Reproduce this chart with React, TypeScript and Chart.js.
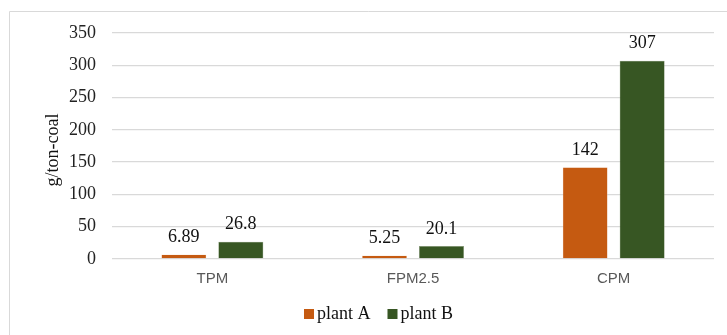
import React, { useEffect, useRef } from "react";
import { Chart, registerables } from "chart.js";

Chart.register(...registerables);

const categories = ["TPM", "FPM2.5", "CPM"];
const plantA = [6.89, 5.25, 142];
const plantB = [26.8, 20.1, 307];
const seriesLabels = ["plant A", "plant B"];
const seriesColors = ["#C55A11", "#375623"];
const yMin = 0;
const yMax = 350;
const yStep = 50;
const yTitle = "g/ton-coal";

const SERIF = "'Liberation Serif', 'Times New Roman', serif";

const framePlugin = {
  id: "frame",
  beforeDraw(chart: any) {
    const ctx = chart.ctx;
    ctx.save();
    ctx.strokeStyle = "#d9d9d9";
    ctx.lineWidth = 1;
    ctx.beginPath();
    ctx.moveTo(9.5, chart.height);
    ctx.lineTo(9.5, 11.5);
    ctx.lineTo(chart.width, 11.5);
    ctx.stroke();
    ctx.restore();
  },
};

const barLabelPlugin = {
  id: "barLabels",
  afterDatasetsDraw(chart: any) {
    const ctx = chart.ctx;
    ctx.save();
    ctx.font = `18px ${SERIF}`;
    ctx.fillStyle = "#111";
    ctx.textAlign = "center";
    ctx.textBaseline = "alphabetic";
    chart.data.datasets.forEach((ds: any, i: number) => {
      const meta = chart.getDatasetMeta(i);
      meta.data.forEach((bar: any, j: number) => {
        ctx.fillText(String(ds.data[j]), bar.x, bar.y - 12.5);
      });
    });
    ctx.restore();
  },
};

const yTitlePlugin = {
  id: "yTitleCustom",
  afterDraw(chart: any) {
    const ctx = chart.ctx;
    ctx.save();
    ctx.translate(53, 150);
    ctx.rotate(-Math.PI / 2);
    ctx.font = `18px ${SERIF}`;
    ctx.fillStyle = "#111";
    ctx.textAlign = "center";
    ctx.textBaseline = "middle";
    ctx.fillText(yTitle, 0, 0);
    ctx.restore();
  },
};

const legendPlugin = {
  id: "customLegend",
  afterDraw(chart: any) {
    const ctx = chart.ctx;
    ctx.save();
    ctx.font = `18px ${SERIF}`;
    const box = 10;
    const gapBoxText = 3;
    const gapItems = 17;
    const items = chart.data.datasets.map((ds: any) => ({
      text: ds.label,
      color: ds.backgroundColor,
      w: ctx.measureText(ds.label).width,
    }));
    const total =
      items.reduce((s: number, it: any) => s + box + gapBoxText + it.w, 0) +
      gapItems * (items.length - 1);
    let x = 378.5 - total / 2;
    const baseline = 319;
    items.forEach((it: any) => {
      ctx.fillStyle = it.color;
      ctx.fillRect(x, baseline - box, box, box);
      x += box + gapBoxText;
      ctx.fillStyle = "#111";
      ctx.textAlign = "left";
      ctx.textBaseline = "alphabetic";
      ctx.fillText(it.text, x, baseline);
      x += it.w + gapItems;
    });
    ctx.restore();
  },
};

export default function App() {
  const ref = useRef<HTMLCanvasElement | null>(null);

  useEffect(() => {
    if (!ref.current) return;
    const chart = new Chart(ref.current, {
      type: "bar",
      data: {
        labels: categories,
        datasets: [
          {
            label: seriesLabels[0],
            data: plantA,
            backgroundColor: seriesColors[0],
            borderColor: "#f4d9c6",
            borderWidth: 0.5,
            categoryPercentage: 0.568,
            barPercentage: 0.79,
          },
          {
            label: seriesLabels[1],
            data: plantB,
            backgroundColor: seriesColors[1],
            borderColor: "#8fa07f",
            borderWidth: 0.5,
            categoryPercentage: 0.568,
            barPercentage: 0.79,
          },
        ],
      },
      options: {
        responsive: false,
        animation: false,
        devicePixelRatio: 1,
        layout: { padding: { top: 33, bottom: 36, right: 13, left: 0 } },
        plugins: {
          legend: { display: false },
          tooltip: { enabled: false },
          title: { display: false },
        },
        scales: {
          x: {
            grid: { display: false, drawTicks: false },
            border: { display: false },
            ticks: {
              color: "#595959",
              font: { family: "'Liberation Sans', Arial, sans-serif", size: 15 },
              padding: 11,
            },
            afterFit(scale: any) {
              scale.height = 40;
            },
          },
          y: {
            min: yMin,
            max: yMax,
            ticks: {
              stepSize: yStep,
              color: "#222",
              font: { family: SERIF, size: 18 },
              padding: 16,
            },
            grid: { color: "#d9d9d9", lineWidth: 1.3, drawTicks: false },
            border: { display: false },
            afterFit(scale: any) {
              scale.width = 112;
            },
          },
        },
      },
      plugins: [framePlugin, barLabelPlugin, yTitlePlugin, legendPlugin],
    });
    return () => chart.destroy();
  }, []);

  return (
    <div style={{ position: "absolute", left: 0, top: 0, width: 727, height: 335, background: "#fff" }}>
      <canvas ref={ref} width={727} height={335} />
    </div>
  );
}
